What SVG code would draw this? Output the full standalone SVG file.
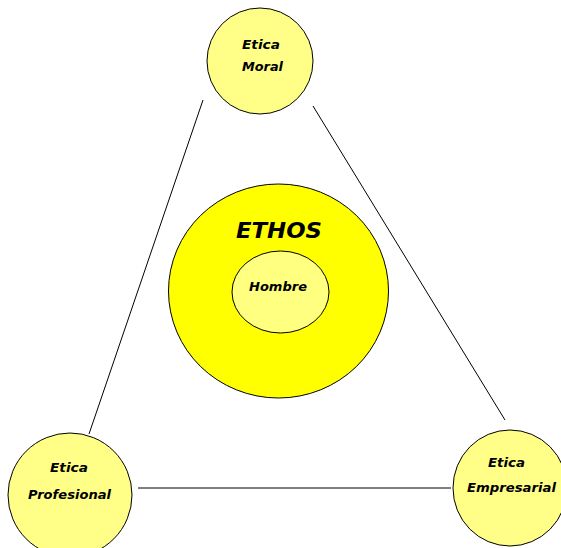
<svg xmlns="http://www.w3.org/2000/svg" width="561" height="548" viewBox="0 0 561 548">
<style>
.n{fill:#ffff88;stroke:#000;stroke-width:1}
.t{font-family:"DejaVu Sans","Liberation Sans",Arial,sans-serif;font-weight:bold;font-style:italic;fill:#000;font-size:13px}
.c{stroke:#000;stroke-width:1;fill:none}
</style>
<rect width="561" height="548" fill="#fff"/>
<g id="connectors">
<line class="c" x1="203" y1="100" x2="89" y2="434"/>
<line class="c" x1="313" y1="106" x2="505" y2="420"/>
<line class="c" x1="138" y1="488" x2="451" y2="488"/>
</g>
<g id="ethos">
<ellipse cx="278.5" cy="291" rx="110" ry="107" fill="#ffff00" stroke="#000"/>
<text class="t" x="236" y="238" style="font-size:22px" textLength="86" lengthAdjust="spacingAndGlyphs">ETHOS</text>
</g>
<g id="hombre">
<ellipse cx="280.5" cy="292" rx="48.5" ry="41" fill="#ffff80" stroke="#000"/>
<text class="t" x="249" y="291" textLength="58" lengthAdjust="spacingAndGlyphs">Hombre</text>
</g>
<g id="moral">
<ellipse class="n" cx="260" cy="61" rx="53" ry="53"/>
<text class="t" x="242" y="49" textLength="38" lengthAdjust="spacingAndGlyphs">Etica</text>
<text class="t" x="242" y="71" textLength="41" lengthAdjust="spacingAndGlyphs">Moral</text>
</g>
<g id="profesional">
<ellipse class="n" cx="70" cy="495" rx="62" ry="62"/>
<text class="t" x="50" y="472" textLength="38" lengthAdjust="spacingAndGlyphs">Etica</text>
<text class="t" x="28" y="499" textLength="83" lengthAdjust="spacingAndGlyphs">Profesional</text>
</g>
<g id="empresarial">
<ellipse class="n" cx="510" cy="488" rx="57" ry="58"/>
<text class="t" x="488" y="467" textLength="37" lengthAdjust="spacingAndGlyphs">Etica</text>
<text class="t" x="467" y="492" textLength="89" lengthAdjust="spacingAndGlyphs">Empresarial</text>
</g>
</svg>
